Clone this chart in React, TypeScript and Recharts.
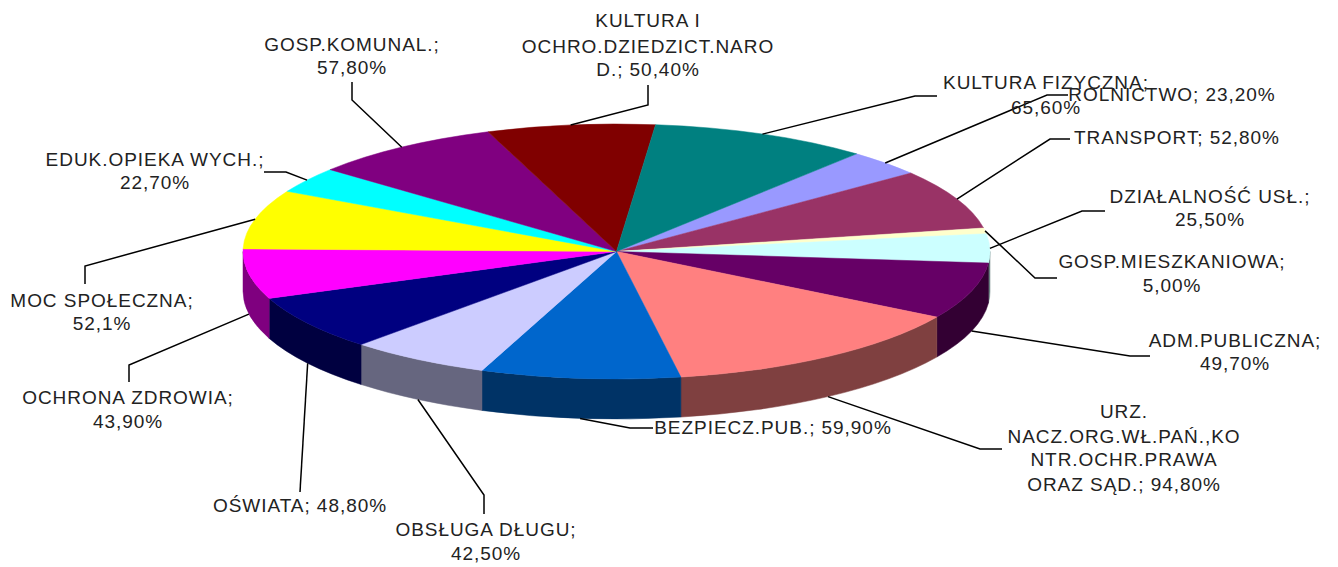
import React from "react";
import {PieChart, Pie, Cell} from "recharts";

const categories = [
  "ROLNICTWO",
  "TRANSPORT",
  "GOSP.MIESZKANIOWA",
  "DZIAŁALNOŚĆ USŁ.",
  "ADM.PUBLICZNA",
  "URZ. NACZ.ORG.WŁ.PAŃ.,KONTR.OCHR.PRAWA ORAZ SĄD.",
  "BEZPIECZ.PUB.",
  "OBSŁUGA DŁUGU",
  "OŚWIATA",
  "OCHRONA ZDROWIA",
  "POMOC SPOŁECZNA",
  "EDUK.OPIEKA WYCH.",
  "GOSP.KOMUNAL.",
  "KULTURA I OCHRO.DZIEDZICT.NAROD.",
  "KULTURA FIZYCZNA",
];
const values = [
  23.2, 52.8, 5.0, 25.5, 49.7, 94.8, 59.9, 42.5, 48.8, 43.9, 52.1, 22.7, 57.8,
  50.4, 65.6,
];
const data = categories.map((name, i) => ({name, value: values[i]}));

// classic Excel chart palette
const colors = [
  "#9999FF", "#993366", "#FFFFCC", "#CCFFFF", "#660066", "#FF8080", "#0066CC",
  "#CCCCFF", "#000080", "#FF00FF", "#FFFF00", "#00FFFF", "#800080", "#800000",
  "#008080",
];

const labelLines = [
  ["ROLNICTWO; 23,20%"],
  ["TRANSPORT; 52,80%"],
  ["GOSP.MIESZKANIOWA;", "5,00%"],
  ["DZIAŁALNOŚĆ USŁ.;", "25,50%"],
  ["ADM.PUBLICZNA;", "49,70%"],
  ["URZ.", "NACZ.ORG.WŁ.PAŃ.,KO", "NTR.OCHR.PRAWA", "ORAZ SĄD.; 94,80%"],
  ["BEZPIECZ.PUB.; 59,90%"],
  ["OBSŁUGA DŁUGU;", "42,50%"],
  ["OŚWIATA; 48,80%"],
  ["OCHRONA ZDROWIA;", "43,90%"],
  ["MOC SPOŁECZNA;", "52,1%"],
  ["EDUK.OPIEKA WYCH.;", "22,70%"],
  ["GOSP.KOMUNAL.;", "57,80%"],
  ["KULTURA I", "OCHRO.DZIEDZICT.NARO", "D.; 50,40%"],
  ["KULTURA FIZYCZNA;", "65,60%"],
];

// label placement: text centre, line baselines, leader bend points
const labelPlaces: {x: number; y: number[]; leader: number[][]}[] = [
  {x: 1172, y: [101], leader: [[1047, 95], [1068, 95]]},
  {x: 1177, y: [144], leader: [[1050, 139], [1070, 139]]},
  {x: 1172, y: [268, 292], leader: [[1035, 278], [1057, 278]]},
  {x: 1210, y: [203, 226], leader: [[1082, 211], [1105, 211]]},
  {x: 1235, y: [347, 370], leader: [[1130, 356], [1150, 356]]},
  {x: 1124, y: [418, 443, 466, 491], leader: [[980, 449], [1002, 449]]},
  {x: 773, y: [434], leader: [[630, 428], [653, 428]]},
  {x: 486, y: [536, 560], leader: [[484, 495], [484, 514]]},
  {x: 300, y: [512], leader: [[300, 492]]},
  {x: 128, y: [404, 428], leader: [[129, 365], [129, 382]]},
  {x: 102, y: [307, 330], leader: [[85, 266], [85, 284]]},
  {x: 155, y: [166, 189], leader: [[286, 172], [264, 172]]},
  {x: 352, y: [51, 74], leader: [[352, 100], [352, 82]]},
  {x: 648, y: [27, 53, 76], leader: [[648, 105], [648, 85]]},
  {x: 1046, y: [89, 114], leader: [[915, 96], [937, 96]]},
];

const CX = 616.5;
const CY = 251.5;
const RX = 373.5;
const RY = 127.5;
const DEPTH = 40;
const RAD = Math.PI / 180;

const rimX = (a: number) => CX + RX * Math.cos(a * RAD);
const rimY = (a: number) => CY - RY * Math.sin(a * RAD);

// top face, the pie squashed to an ellipse
function TopSector(props: any) {
  const {startAngle, endAngle, fill} = props;
  const large = Math.abs(startAngle - endAngle) > 180 ? 1 : 0;
  const d = `M${CX},${CY} L${rimX(startAngle)},${rimY(startAngle)} A${RX},${RY} 0 ${large} 1 ${rimX(endAngle)},${rimY(endAngle)} Z`;
  return <path d={d} fill={fill} stroke={fill} strokeWidth={0.5} />;
}

// side wall, only the part of the rim facing the viewer
function WallSector(props: any) {
  const {startAngle, endAngle, fill} = props;
  const paths: string[] = [];
  for (let k = -2; k <= 2; k++) {
    const hi = Math.min(startAngle, k * 360);
    const lo = Math.max(endAngle, k * 360 - 180);
    if (hi <= lo) continue;
    paths.push(
      `M${rimX(hi)},${rimY(hi)} A${RX},${RY} 0 0 1 ${rimX(lo)},${rimY(lo)} ` +
        `L${rimX(lo)},${rimY(lo) + DEPTH} A${RX},${RY} 0 0 0 ${rimX(hi)},${rimY(hi) + DEPTH} Z`,
    );
  }
  return <path d={paths.join(" ")} fill={fill} stroke={fill} strokeWidth={0.5} />;
}

function darken(hex: string) {
  const n = parseInt(hex.slice(1), 16);
  const half = (v: number) => (v >> 1).toString(16).padStart(2, "0");
  return `#${half((n >> 16) & 255)}${half((n >> 8) & 255)}${half(n & 255)}`;
}

function SliceLabel(props: any) {
  const {index, startAngle, endAngle} = props;
  const mid = (startAngle + endAngle) / 2;
  const place = labelPlaces[index];
  const front = Math.sin(mid * RAD) < 0;
  const start = [rimX(mid), rimY(mid) + (front ? DEPTH : 0)];
  const pts = [start, ...place.leader].map((p) => p.join(",")).join(" ");
  return (
    <g>
      <polyline points={pts} fill="none" stroke="#000" strokeWidth={1.5} />
      {labelLines[index].map((line, i) => (
        <text
          key={i}
          x={place.x}
          y={place.y[i]}
          textAnchor="middle"
          fontFamily="'Liberation Sans', Arial, sans-serif"
          fontSize={19}
          letterSpacing={0.95}
          fill="#222"
        >
          {line}
        </text>
      ))}
    </g>
  );
}

export default function App() {
  return (
    <div style={{position: "absolute", left: 0, top: 0, background: "#fff"}}>
      <PieChart width={1338} height={567} margin={{top: 0, right: 0, bottom: 0, left: 0}}>
        <Pie
          data={data}
          dataKey="value"
          cx={CX}
          cy={CY}
          outerRadius={RX}
          startAngle={50}
          endAngle={-310}
          stroke="none"
          shape={WallSector}
          isAnimationActive={false}
        >
          {colors.map((c, i) => (
            <Cell key={i} fill={darken(c)} />
          ))}
        </Pie>
        <Pie
          data={data}
          dataKey="value"
          cx={CX}
          cy={CY}
          outerRadius={RX}
          startAngle={50}
          endAngle={-310}
          stroke="none"
          shape={TopSector}
          label={SliceLabel}
          labelLine={false}
          isAnimationActive={false}
        >
          {colors.map((c, i) => (
            <Cell key={i} fill={c} />
          ))}
        </Pie>
      </PieChart>
    </div>
  );
}
